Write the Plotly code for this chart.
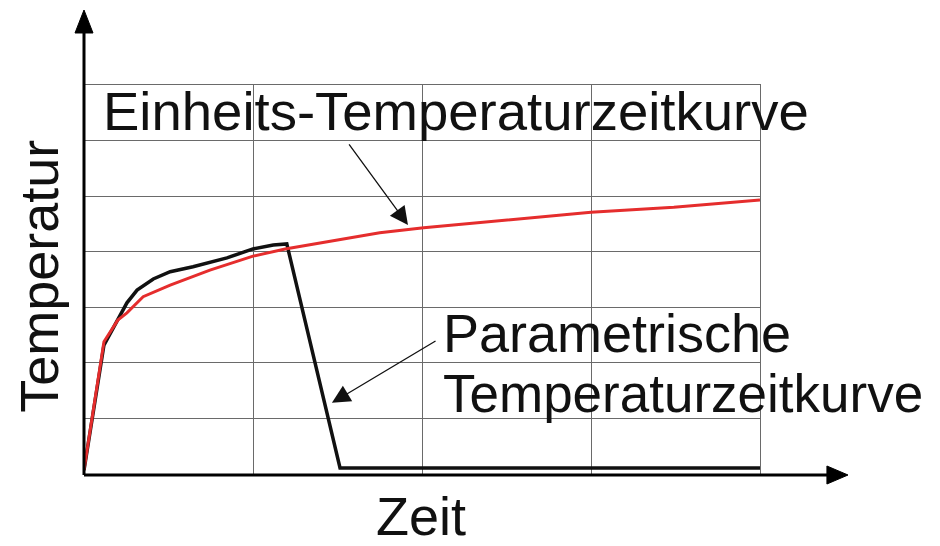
import plotly.graph_objects as go

# Time axis (arbitrary units, 4 grid columns) and temperature (7 grid rows)
einheit_t = [0.0, 0.118, 0.20, 0.254, 0.35, 0.51, 0.745, 1.0, 1.19, 1.75, 2.01, 3.0, 3.49, 4.0]
einheit_T = [0.07, 2.38, 2.77, 2.90, 3.19, 3.40, 3.67, 3.92, 4.05, 4.34, 4.43, 4.71, 4.80, 4.93]

param_t = [0.0, 0.118, 0.254, 0.314, 0.41, 0.51, 0.645, 0.846, 1.0, 1.12, 1.20, 1.515, 4.0]
param_T = [0.07, 2.32, 3.08, 3.31, 3.51, 3.64, 3.73, 3.89, 4.05, 4.12, 4.14, 0.11, 0.11]

label_einheit = "Einheits-Temperaturzeitkurve"
label_param_1 = "Parametrische"
label_param_2 = "Temperaturzeitkurve"
x_title = "Zeit"
y_title = "Temperatur"

FONT = "Liberation Sans, Arial, sans-serif"
TXT = "#111111"

fig = go.Figure()
fig.add_trace(go.Scatter(x=param_t, y=param_T, mode="lines",
                         line=dict(color="#111111", width=3.5), hoverinfo="skip"))
fig.add_trace(go.Scatter(x=einheit_t, y=einheit_T, mode="lines",
                         line=dict(color="#e52d2d", width=3), hoverinfo="skip"))

axis_common = dict(showticklabels=False, ticks="", zeroline=False,
                   showgrid=True, gridcolor="#6a6a6a", gridwidth=1,
                   showline=True, linecolor="#6a6a6a", linewidth=1, mirror=True)
fig.update_xaxes(range=[0, 4], dtick=1, tick0=0, **axis_common)
fig.update_yaxes(range=[0, 7], dtick=1, tick0=0, **axis_common)

PW, PH = 676.0, 389.0  # plot area size in px

shapes = [
    # y axis line + arrowhead
    dict(type="line", xref="paper", yref="paper", x0=0, x1=0, y0=-0.0026, y1=1.134,
         line=dict(color="black", width=3)),
    dict(type="path", xref="paper", yref="paper",
         path=f"M 0 1.1928 L {-9/PW} 1.1337 L {9/PW} 1.1337 Z",
         fillcolor="black", line=dict(color="black", width=1)),
    # x axis line + arrowhead
    dict(type="line", xref="paper", yref="paper", x0=0, x1=1.10, y0=-0.0026, y1=-0.0026,
         line=dict(color="black", width=3)),
    dict(type="path", xref="paper", yref="paper",
         path=f"M 1.1302 -0.0026 L 1.099 {-0.0026 + 9/PH} L 1.099 {-0.0026 - 9/PH} Z",
         fillcolor="black", line=dict(color="black", width=1)),
    # faint strip at top of page
    dict(type="rect", xref="paper", yref="paper", x0=-84/PW, x1=1 + 180/PW,
         y0=1 + 81/PH, y1=1 + 86/PH, fillcolor="#f4dede", line=dict(width=0)),
]

annotations = [
    dict(x=0.10, y=6.53, xref="x", yref="y", text=label_einheit, showarrow=False,
         xanchor="left", yanchor="middle", font=dict(family=FONT, size=54.5, color=TXT)),
    dict(x=2.11, y=2.53, xref="x", yref="y", text=label_param_1, showarrow=False,
         xanchor="left", yanchor="middle", font=dict(family=FONT, size=54, color=TXT)),
    dict(x=2.11, y=1.447, xref="x", yref="y", text=label_param_2, showarrow=False,
         xanchor="left", yanchor="middle", font=dict(family=FONT, size=53, color=TXT)),
    dict(x=(421 - 84) / PW, y=(474 - 516) / PH, xref="paper", yref="paper", text=x_title,
         showarrow=False, xanchor="center", yanchor="middle",
         font=dict(family=FONT, size=54, color=TXT)),
    dict(x=(38.8 - 84) / PW, y=(474 - 276) / PH, xref="paper", yref="paper", text=y_title,
         showarrow=False, textangle=-90, xanchor="center", yanchor="middle",
         font=dict(family=FONT, size=54, color=TXT)),
    # callout arrows
    dict(x=1.917, y=4.48, ax=1.562, ay=5.96, xref="x", yref="y", axref="x", ayref="y",
         text="", showarrow=True, arrowhead=2, arrowsize=2.8, arrowwidth=1.3, arrowcolor="#111"),
    dict(x=1.467, y=1.28, ax=2.089, ay=2.41, xref="x", yref="y", axref="x", ayref="y",
         text="", showarrow=True, arrowhead=2, arrowsize=2.8, arrowwidth=1.3, arrowcolor="#111"),
]

fig.update_layout(
    width=932, height=538,
    margin=dict(l=76, r=180, t=77, b=72),
    paper_bgcolor="white", plot_bgcolor="white",
    showlegend=False,
    shapes=shapes, annotations=annotations,
)

fig.write_html("out.html", config={"displayModeBar": False})
